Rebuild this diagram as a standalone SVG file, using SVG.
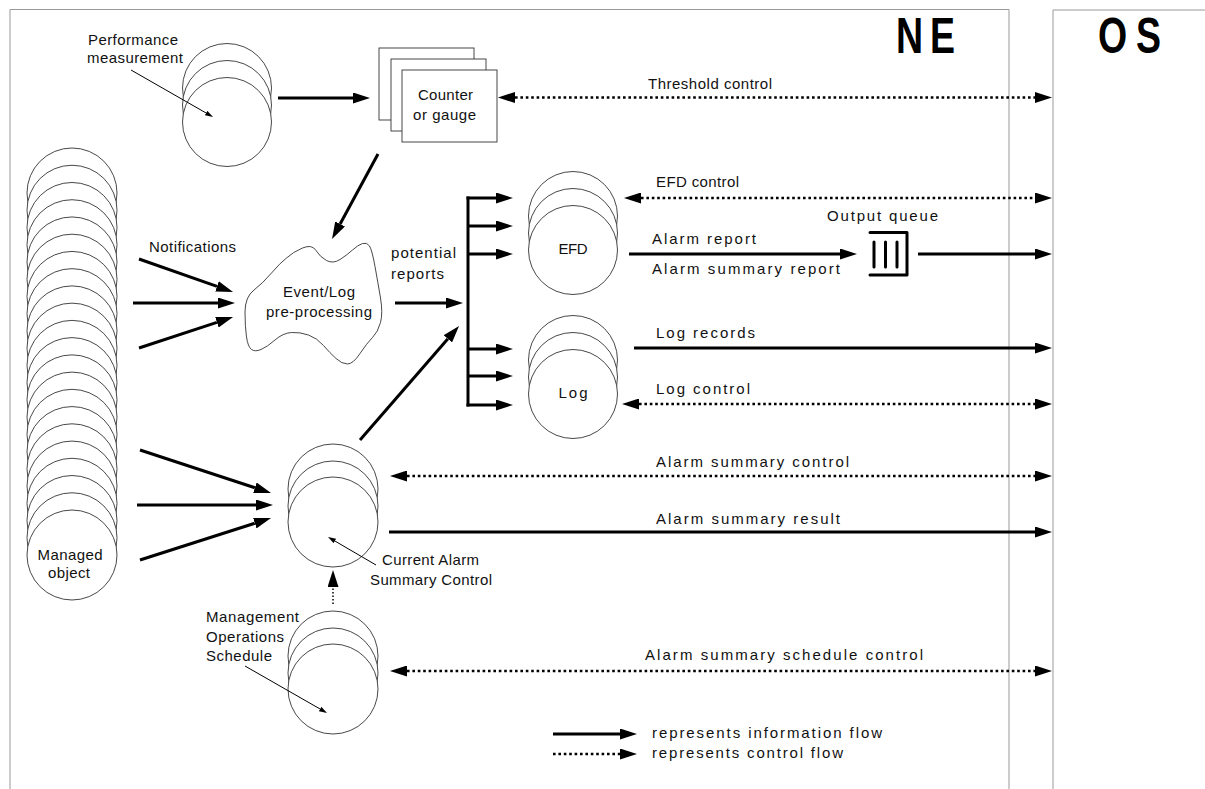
<svg xmlns="http://www.w3.org/2000/svg" width="1205" height="789" viewBox="0 0 1205 789">
<style>
.t{font-family:"Liberation Sans",Arial,Helvetica,sans-serif;font-size:15px;fill:#111}
.big{font-family:"Liberation Sans",Arial,Helvetica,sans-serif;font-size:50px;font-weight:bold;fill:#000}
.c{fill:#fff;stroke:#333;stroke-width:0.9}
.s{stroke:#000;stroke-width:3;fill:none}
.d{stroke:#000;stroke-width:2.6;stroke-dasharray:2.6 2.8;fill:none}
.dt{stroke:#000;stroke-width:1.5;stroke-dasharray:1.5 2;fill:none}
.th{stroke:#000;stroke-width:1;fill:none}
.fr{stroke:#999;stroke-width:1;fill:none}
</style>
<defs>
<marker id="a" markerUnits="userSpaceOnUse" viewBox="0 0 17 11" refX="0" refY="5.5" markerWidth="17" markerHeight="11" orient="auto-start-reverse"><path d="M0,0 L17,5.5 L0,11 z" fill="#000"/></marker>
<marker id="b" markerUnits="userSpaceOnUse" viewBox="0 0 8 5" refX="0" refY="2.5" markerWidth="8" markerHeight="5" orient="auto"><path d="M0,0 L8,2.5 L0,5 z" fill="#000"/></marker>
</defs>

<g id="frames">
<path class="fr" d="M10,789 V9.5 H1009 V789"/>
<path class="fr" d="M1053,789 V10 H1206"/>
<text class="big" transform="translate(896,53) scale(0.75,1)" x="0" y="0" textLength="78.7">NE</text>
<text class="big" transform="translate(1098,53) scale(0.75,1)" x="0" y="0" textLength="84">OS</text>
</g>

<g id="managed-object">
<circle class="c" cx="72" cy="193" r="45"/>
<circle class="c" cx="72" cy="210.24" r="45"/>
<circle class="c" cx="72" cy="227.48" r="45"/>
<circle class="c" cx="72" cy="244.71" r="45"/>
<circle class="c" cx="72" cy="261.95" r="45"/>
<circle class="c" cx="72" cy="279.19" r="45"/>
<circle class="c" cx="72" cy="296.43" r="45"/>
<circle class="c" cx="72" cy="313.67" r="45"/>
<circle class="c" cx="72" cy="330.9" r="45"/>
<circle class="c" cx="72" cy="348.14" r="45"/>
<circle class="c" cx="72" cy="365.38" r="45"/>
<circle class="c" cx="72" cy="382.62" r="45"/>
<circle class="c" cx="72" cy="399.86" r="45"/>
<circle class="c" cx="72" cy="417.1" r="45"/>
<circle class="c" cx="72" cy="434.33" r="45"/>
<circle class="c" cx="72" cy="451.57" r="45"/>
<circle class="c" cx="72" cy="468.81" r="45"/>
<circle class="c" cx="72" cy="486.05" r="45"/>
<circle class="c" cx="72" cy="503.29" r="45"/>
<circle class="c" cx="72" cy="520.52" r="45"/>
<circle class="c" cx="72" cy="537.76" r="45"/>
<circle class="c" cx="72" cy="555" r="45"/>
<text class="t" x="70" y="560" text-anchor="middle" textLength="65">Managed</text>
<text class="t" x="69" y="578" text-anchor="middle" textLength="42">object</text>
</g>

<g id="performance-measurement">
<circle class="c" cx="227" cy="88" r="44.5"/>
<circle class="c" cx="227" cy="105" r="44.5"/>
<circle class="c" cx="227" cy="122" r="44.5"/>
<text class="t" x="88" y="45" textLength="90">Performance</text>
<text class="t" x="87" y="63" textLength="96">measurement</text>
</g>

<g id="counter-or-gauge">
<rect class="c" x="379" y="48" width="95" height="72"/>
<rect class="c" x="391" y="59" width="95" height="72"/>
<rect class="c" x="402" y="70" width="95" height="72"/>
<text class="t" x="445.5" y="100" text-anchor="middle" textLength="55">Counter</text>
<text class="t" x="444.5" y="120" text-anchor="middle" textLength="63">or gauge</text>
</g>

<g id="event-log-preprocessing">
<path class="c" d="M245,312 Q245,297 254,290 Q263,283 271.5,273 Q280,263 286.5,258 Q293,252 302.5,248 Q312,244 316,250.5 Q320,257 326.5,260.5 Q333,264 340,259.5 Q347,255 352.5,250 Q358,245 362.5,243.5 Q367,242 369.5,246 Q372,250 375,266.5 Q378,283 380.5,298 Q383,313 380.5,322.5 Q378,332 372.5,337.5 Q367,343 360,353.5 Q353,364 347.5,364 Q342,364 336,358.5 Q330,353 323.5,345.5 Q317,338 308.5,335 Q300,332 291.5,332.5 Q283,333 275,340 Q267,347 261,349.5 Q255,352 251.5,349.5 Q248,347 246.5,337 Q245,327 245,312 Z"/>
<text class="t" x="319" y="297" text-anchor="middle" textLength="72">Event/Log</text>
<text class="t" x="319" y="317" text-anchor="middle" textLength="106">pre-processing</text>
</g>

<g id="efd">
<circle class="c" cx="573" cy="216" r="44.5"/>
<circle class="c" cx="573" cy="233" r="44.5"/>
<circle class="c" cx="573" cy="250" r="44.5"/>
<text class="t" x="573" y="254" text-anchor="middle" textLength="29">EFD</text>
</g>

<g id="log">
<circle class="c" cx="573" cy="360" r="44.5"/>
<circle class="c" cx="573" cy="377" r="44.5"/>
<circle class="c" cx="573" cy="394" r="44.5"/>
<text class="t" x="573" y="398" text-anchor="middle" textLength="29">Log</text>
</g>

<g id="output-queue">
<polyline points="870,232.5 907,232.5 907,275 870,275" fill="none" stroke="#000" stroke-width="3" stroke-linejoin="round" stroke-linecap="round"/>
<path d="M874,242 V267 M885.5,242 V267 M897,242 V267" stroke="#000" stroke-width="3" stroke-linecap="round"/>
<text class="t" x="827" y="221" textLength="111">Output queue</text>
</g>

<g id="current-alarm-summary-control">
<circle class="c" cx="333" cy="489" r="45"/>
<circle class="c" cx="333" cy="506" r="45"/>
<circle class="c" cx="333" cy="522" r="45"/>
<text class="t" x="382" y="565" textLength="97">Current Alarm</text>
<text class="t" x="370" y="585" textLength="122">Summary Control</text>
</g>

<g id="management-operations-schedule">
<circle class="c" cx="333" cy="656" r="45"/>
<circle class="c" cx="333" cy="673" r="45"/>
<circle class="c" cx="333" cy="689" r="45"/>
<text class="t" x="206" y="622" textLength="93">Management</text>
<text class="t" x="206" y="642" textLength="78">Operations</text>
<text class="t" x="206" y="661" textLength="66">Schedule</text>
</g>

<g id="connectors">
<line class="th" x1="131" y1="70" x2="206.1" y2="113" marker-end="url(#b)"/>
<line class="th" x1="376" y1="565" x2="334.9" y2="541" marker-end="url(#b)"/>
<line class="th" x1="245" y1="666" x2="320.1" y2="709" marker-end="url(#b)"/>

<line class="s" x1="278" y1="98" x2="353" y2="98" marker-end="url(#a)"/>
<line class="s" x1="378" y1="154" x2="340.1" y2="224" marker-end="url(#a)"/>
<line class="s" x1="139" y1="259" x2="217" y2="286.4" marker-end="url(#a)"/>
<line class="s" x1="133" y1="303" x2="218" y2="303" marker-end="url(#a)"/>
<line class="s" x1="139" y1="348" x2="216.9" y2="322.3" marker-end="url(#a)"/>
<text class="t" x="149" y="252" textLength="87">Notifications</text>

<line class="s" x1="395" y1="303" x2="446" y2="303" marker-end="url(#a)"/>
<text class="t" x="391" y="258" textLength="65">potential</text>
<text class="t" x="391" y="279" textLength="53">reports</text>
<line class="s" x1="360" y1="440" x2="447.9" y2="338.8" marker-end="url(#a)"/>

<line class="s" x1="468" y1="196.5" x2="468" y2="406.5"/>
<line class="s" x1="466.5" y1="198" x2="496" y2="198" marker-end="url(#a)"/>
<line class="s" x1="468" y1="226" x2="496" y2="226" marker-end="url(#a)"/>
<line class="s" x1="468" y1="254" x2="496" y2="254" marker-end="url(#a)"/>
<line class="s" x1="468" y1="349" x2="496" y2="349" marker-end="url(#a)"/>
<line class="s" x1="468" y1="376" x2="496" y2="376" marker-end="url(#a)"/>
<line class="s" x1="466.5" y1="405" x2="496" y2="405" marker-end="url(#a)"/>

<line class="s" x1="629" y1="254" x2="840" y2="254" marker-end="url(#a)"/>
<text class="t" x="652" y="244" textLength="104">Alarm report</text>
<text class="t" x="652" y="274" textLength="188">Alarm summary report</text>
<line class="s" x1="918" y1="254" x2="1035" y2="254" marker-end="url(#a)"/>

<line class="s" x1="634" y1="348" x2="1035" y2="348" marker-end="url(#a)"/>
<text class="t" x="656" y="338" textLength="99">Log records</text>

<line class="s" x1="140" y1="450" x2="254.9" y2="487.7" marker-end="url(#a)"/>
<line class="s" x1="137" y1="505" x2="256" y2="505" marker-end="url(#a)"/>
<line class="s" x1="140" y1="560" x2="254.8" y2="523.2" marker-end="url(#a)"/>

<line class="s" x1="389" y1="532" x2="1035" y2="532" marker-end="url(#a)"/>
<text class="t" x="656" y="524" textLength="184">Alarm summary result</text>

<line class="d" x1="515" y1="97.5" x2="1035" y2="97.5" marker-start="url(#a)" marker-end="url(#a)"/>
<text class="t" x="648" y="89" textLength="124">Threshold control</text>
<line class="d" x1="641" y1="198" x2="1035" y2="198" marker-start="url(#a)" marker-end="url(#a)"/>
<text class="t" x="656" y="187" textLength="83">EFD control</text>
<line class="d" x1="639" y1="404" x2="1035" y2="404" marker-start="url(#a)" marker-end="url(#a)"/>
<text class="t" x="656" y="394" textLength="94">Log control</text>
<line class="d" x1="407" y1="476" x2="1035" y2="476" marker-start="url(#a)" marker-end="url(#a)"/>
<text class="t" x="656" y="467" textLength="193">Alarm summary control</text>
<line class="d" x1="407" y1="671" x2="1035" y2="671" marker-start="url(#a)" marker-end="url(#a)"/>
<text class="t" x="645" y="660" textLength="278">Alarm summary schedule control</text>
<line class="dt" x1="333" y1="604" x2="333" y2="587" marker-end="url(#a)"/>
</g>

<g id="legend">
<line class="s" x1="553" y1="734" x2="620" y2="734" marker-end="url(#a)"/>
<text class="t" x="652" y="738" textLength="230">represents information flow</text>
<line class="d" x1="553" y1="754" x2="620" y2="754" marker-end="url(#a)"/>
<text class="t" x="652" y="758" textLength="191">represents control flow</text>
</g>
</svg>
